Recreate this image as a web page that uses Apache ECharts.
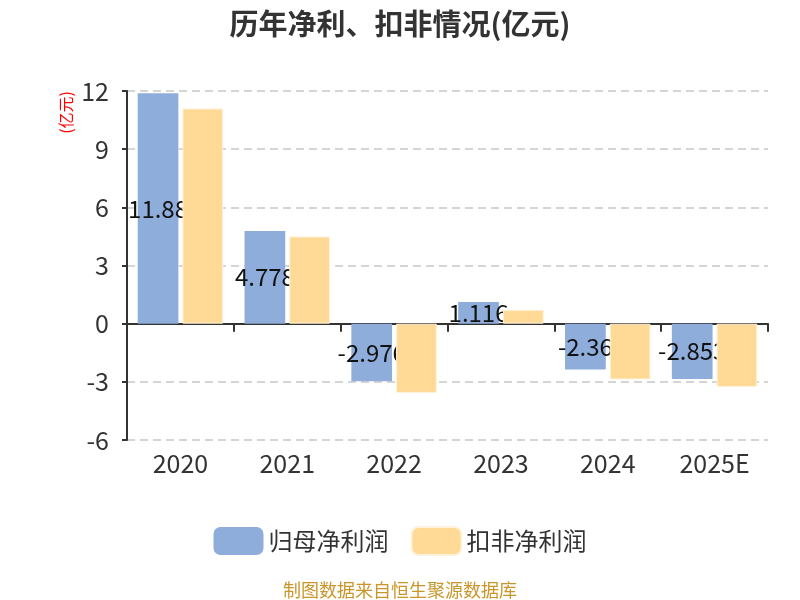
<!DOCTYPE html>
<html>
<head>
<meta charset="utf-8">
<script src="https://cdn.jsdelivr.net/npm/echarts@6/dist/echarts.min.js"></script>
<style>html,body{margin:0;padding:0;background:#fff}#c{width:800px;height:600px}</style>
</head>
<body>
<div id="c"></div>
<script>
var categories = ['2020', '2021', '2022', '2023', '2024', '2025E'];
var netProfit = [11.88, 4.778, -2.976, 1.116, -2.36, -2.853];
var deductedProfit = [11.1, 4.5, -3.57, 0.72, -2.88, -3.26];
var seriesNames = ['归母净利润', '扣非净利润'];
var yTicks = { min: -6, max: 12, interval: 3 };

var FONT = '"Noto Sans CJK SC", "Noto Sans", sans-serif';
var chart = echarts.init(document.getElementById('c'));
chart.setOption({
  animation: false,
  textStyle: { fontFamily: FONT },
  title: [{
    text: '历年净利、扣非情况(亿元)',
    left: 'center', top: 4,
    textStyle: { fontSize: 29, fontWeight: 'bold', color: '#333', fontFamily: FONT }
  }, {
    text: '制图数据来自恒生聚源数据库',
    left: 'center', top: 576,
    textStyle: { fontSize: 18, fontWeight: 'normal', color: '#c8962a', fontFamily: FONT }
  }],
  legend: {
    data: seriesNames,
    top: 521, left: 'center',
    itemWidth: 50, itemHeight: 28, itemGap: 22,
    textStyle: { fontSize: 24, color: '#333', fontFamily: FONT }
  },
  grid: { left: 127, right: 32, top: 91, bottom: 160 },
  xAxis: [{
    type: 'category', data: categories,
    axisLine: { onZero: true, lineStyle: { color: '#333', width: 2 } },
    axisTick: { show: true, length: 8, lineStyle: { color: '#333', width: 2 } },
    axisLabel: { show: false }
  }, {
    type: 'category', data: categories, position: 'bottom',
    axisLine: { show: false, onZero: false },
    axisTick: { show: false },
    axisLabel: { fontSize: 25, color: '#333', margin: 11, fontFamily: FONT }
  }],
  yAxis: {
    type: 'value', min: yTicks.min, max: yTicks.max, interval: yTicks.interval,
    name: '(亿元)', nameLocation: 'end', nameRotate: 90,
    nameGap: 0,
    nameTextStyle: { color: '#ff0000', fontSize: 16, align: 'right', verticalAlign: 'bottom', padding: [0, 0, 53, 0] },
    axisLine: { show: true, lineStyle: { color: '#333', width: 2 } },
    axisTick: { show: true, length: 5, lineStyle: { color: '#333', width: 2 } },
    axisLabel: { fontSize: 25, color: '#333', margin: 18, fontFamily: FONT },
    splitLine: { show: true, lineStyle: { color: '#c8c8c8', type: [8, 5], width: 1.5 } }
  },
  series: [{
    name: seriesNames[0], type: 'bar', data: netProfit, xAxisIndex: 0,
    barGap: '10%', barCategoryGap: '20%', z: 2,
    itemStyle: { color: '#8eaddb' },
    label: { show: true, position: 'inside', color: '#111', fontSize: 24, fontFamily: FONT }
  }, {
    name: seriesNames[1], type: 'bar', data: deductedProfit, xAxisIndex: 0,
    barGap: '10%', barCategoryGap: '20%', z: 3,
    itemStyle: { color: '#ffd996', borderColor: '#fff3dd', borderWidth: 1 },
    label: { show: false }
  }]
});
</script>
</body>
</html>
